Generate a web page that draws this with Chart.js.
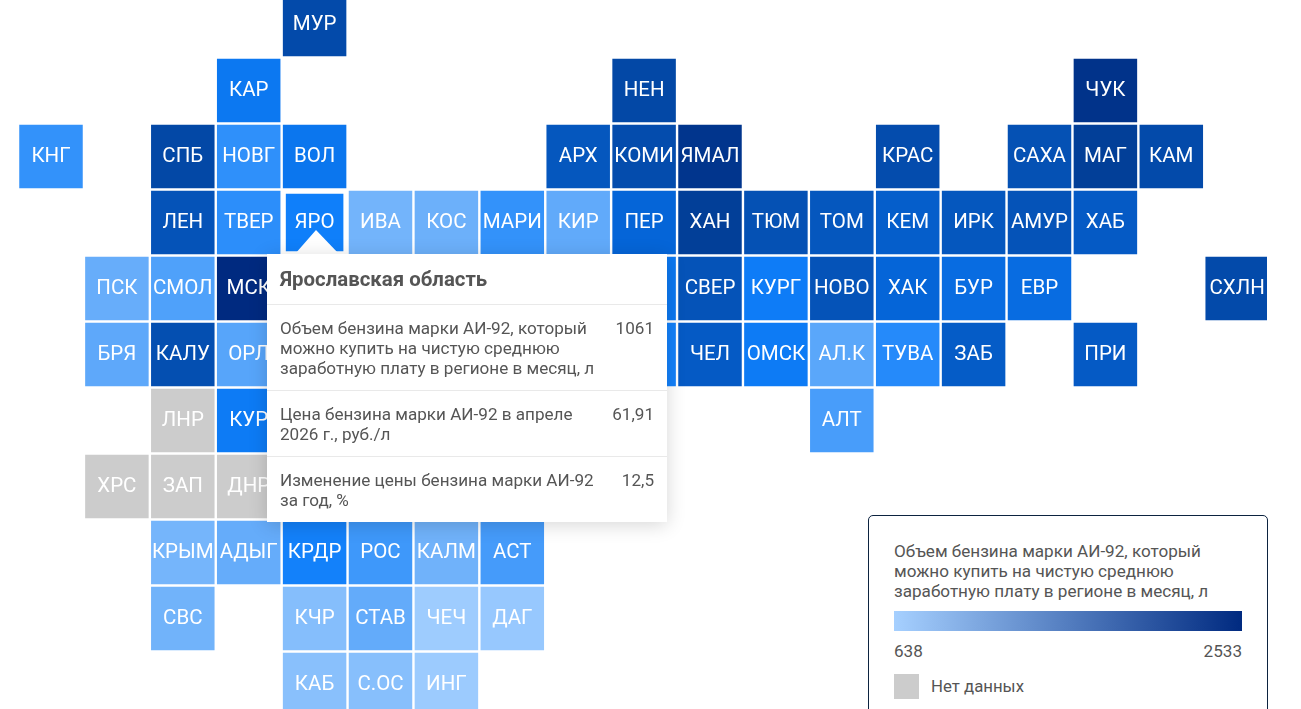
<!DOCTYPE html>
<html lang="ru"><head><meta charset="utf-8">
<script src="https://cdn.jsdelivr.net/npm/chart.js@4/dist/chart.umd.min.js"></script>
<style>
html,body{margin:0;padding:0;background:#fff;width:1301px;height:709px;overflow:hidden;font-family:Roboto,sans-serif;color:#555}
#wrap{position:relative;width:1301px;height:709px;overflow:hidden}
canvas{position:absolute;left:0;top:0}
#tip{position:absolute;left:267px;top:254px;width:400px;height:268px;background:#fff;box-shadow:0 3px 18px rgba(0,0,0,.16);font-size:17.1px;line-height:20px;box-sizing:border-box}
#arrow{position:absolute;left:295px;top:230px;width:0;height:0;border-left:21px solid transparent;border-right:23px solid transparent;border-bottom:24px solid #fff}
#tip .t{height:50px;font-size:20.4px;font-weight:700;line-height:51px;padding-left:13px;border-bottom:1px solid #e9e9e9;box-sizing:content-box}
#tip .r{display:flex;justify-content:space-between;padding:13px 13px 12px 13px;border-bottom:1px solid #e9e9e9}
#tip .r:last-child{border-bottom:0}
#tip .r span:first-child{display:block;width:322px}
#leg{position:absolute;left:868px;top:515px;width:400px;height:240px;border:1px solid #0c2340;border-radius:5px;box-sizing:border-box;background:#fff;font-size:17.1px;line-height:20px}
#leg .h{position:absolute;left:25px;top:25px;white-space:nowrap}
#leg .g{position:absolute;left:25px;top:95px;width:348px;height:20px;background:linear-gradient(90deg,#a6d0ff,#002a80)}
#leg .a{position:absolute;left:25px;top:125px}
#leg .b{position:absolute;right:25px;top:125px}
#leg .s{position:absolute;left:25px;top:158px;width:25px;height:25px;background:#ccc}
#leg .n{position:absolute;left:62px;top:160px;font-size:16.8px}
</style></head><body>
<div id="wrap">
<canvas id="c" width="1267" height="709"></canvas>
<div id="arrow"></div>
<div id="tip">
<div class="t">Ярославская область</div>
<div class="r"><span>Объем бензина марки АИ-92, который можно купить на чистую среднюю заработную плату в регионе в месяц, л</span><span>1061</span></div>
<div class="r"><span>Цена бензина марки АИ-92 в апреле 2026 г., руб./л</span><span>61,91</span></div>
<div class="r"><span>Изменение цены бензина марки АИ-92 за год, %</span><span>12,5</span></div>
</div>
<div id="leg">
<div class="h">Объем бензина марки АИ-92, который<br>можно купить на чистую среднюю<br>заработную плату в регионе в месяц, л</div>
<div class="g"></div><div class="a">638</div><div class="b">2533</div>
<div class="s"></div><div class="n">Нет данных</div>
</div>
</div>
<script>
const tileLabels=["МУР","КАР","НЕН","ЧУК","КНГ","СПБ","НОВГ","ВОЛ","АРХ","КОМИ","ЯМАЛ","КРАС","САХА","МАГ","КАМ",
"ЛЕН","ТВЕР","ЯРО","ИВА","КОС","МАРИ","КИР","ПЕР","ХАН","ТЮМ","ТОМ","КЕМ","ИРК","АМУР","ХАБ",
"ПСК","СМОЛ","МСК","","СВЕР","КУРГ","НОВО","ХАК","БУР","ЕВР","СХЛН",
"БРЯ","КАЛУ","ОРЛ","","ЧЕЛ","ОМСК","АЛ.К","ТУВА","ЗАБ","ПРИ",
"ЛНР","КУР","АЛТ","ХРС","ЗАП","ДНР",
"КРЫМ","АДЫГ","КРДР","РОС","КАЛМ","АСТ",
"СВС","КЧР","СТАВ","ЧЕЧ","ДАГ","КАБ","С.ОС","ИНГ"];
const tileCols=[4,3,9,16,0,2,3,4,8,9,10,13,15,16,17,
2,3,4,5,6,7,8,9,10,11,12,13,14,15,16,
1,2,3,9,10,11,12,13,14,15,18,
1,2,3,9,10,11,12,13,14,16,
2,3,12,1,2,3,
2,3,4,5,6,7,
2,4,5,6,7,4,5,6];
const tileRows=[0,1,1,1,2,2,2,2,2,2,2,2,2,2,2,
3,3,3,3,3,3,3,3,3,3,3,3,3,3,3,
4,4,4,4,4,4,4,4,4,4,4,
5,5,5,5,5,5,5,5,5,5,
6,6,6,7,7,7,
8,8,8,8,8,8,
9,9,9,9,9,10,10,10];
const tileValues=[1700,1110,1750,2300,960,1750,970,1130,1450,1650,2250,1650,1550,2000,1700,
1500,980,1061,780,800,960,830,1250,2000,1550,1450,1350,1450,1500,1400,
815,880,2533,1110,1500,1080,1500,1250,1200,1200,1700,
840,1600,860,1050,1400,1090,850,1000,1380,1400,
null,1090,900,null,null,null,
775,820,1050,930,790,910,
785,730,825,660,680,720,725,665];
const activeLabel="ЯРО";
const colorStops=[[638,[166,208,255]],[800,[108,176,250]],[1061,[15,127,250]],[1250,[5,101,216]],[1500,[5,83,184]],[1750,[3,72,166]],[2000,[2,63,152]],[2533,[0,42,128]]];
function tileColor(v){
  if(v===null)return "#cccccc";
  for(let i=1;i<colorStops.length;i++){
    if(v<=colorStops[i][0]){
      const [a,ca]=colorStops[i-1],[b,cb]=colorStops[i],t=(v-a)/(b-a);
      return "rgb("+ca.map((c,k)=>Math.round(c+(cb[k]-c)*t)).join(",")+")";
    }
  }
  return "rgb(0,42,128)";
}
const tileLabelPlugin={id:"tileLabels",afterDatasetsDraw(chart){
  const ctx=chart.ctx,x=chart.scales.x,y=chart.scales.y;
  ctx.save();ctx.fillStyle="#fff";ctx.font="400 20.5px Roboto";ctx.textAlign="center";ctx.textBaseline="middle";
  tileLabels.forEach((l,i)=>{ if(l) ctx.fillText(l,x.getPixelForValue(tileCols[i]),y.getPixelForValue(tileRows[i]));});
  ctx.restore();
}};
new Chart(document.getElementById("c"),{
  type:"scatter",
  data:{datasets:[{
    data:tileLabels.map((l,i)=>({x:tileCols[i],y:tileRows[i]})),
    pointStyle:"rect",
    backgroundColor:tileValues.map(tileColor),
    borderWidth:0,
    pointRadius:tileLabels.map(l=>l===activeLabel?40.7:44.9),
    clip:false
  }]},
  options:{
    responsive:false,animation:false,devicePixelRatio:1,
    layout:{padding:0,autoPadding:false},
    events:[],
    scales:{
      x:{type:"linear",display:false,bounds:"data",min:-51/65.9,max:(1267-51)/65.9},
      y:{type:"linear",display:false,bounds:"data",reverse:true,min:-24.5/66,max:(709-24.5)/66}
    },
    plugins:{legend:{display:false},tooltip:{enabled:false}}
  },
  plugins:[tileLabelPlugin]
});
</script>
</body></html>
